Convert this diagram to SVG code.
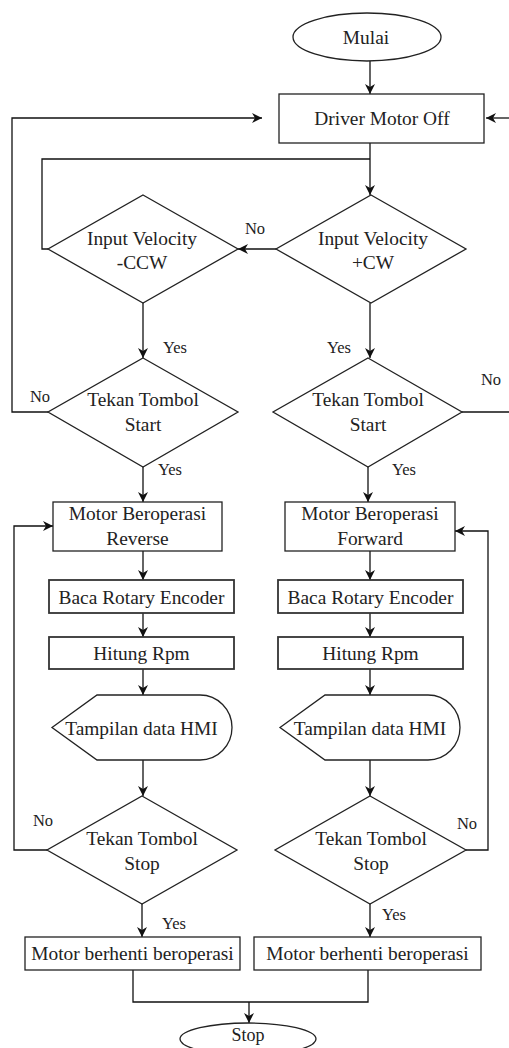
<svg xmlns="http://www.w3.org/2000/svg" width="509" height="1048" viewBox="0 0 509 1048">
<style>
.s{fill:#fff;stroke:#222;stroke-width:1.3}
.c{fill:none;stroke:#111;stroke-width:1.3}
.t{font-family:"Liberation Serif","Times New Roman",serif;font-size:19.4px;fill:#222;text-anchor:middle;dominant-baseline:central}
.l{font-family:"Liberation Serif","Times New Roman",serif;font-size:16.5px;fill:#222;text-anchor:middle;dominant-baseline:central}
</style>
<defs>
<marker id="a" viewBox="0 0 10 10" refX="10" refY="5" markerWidth="10" markerHeight="10" markerUnits="userSpaceOnUse" orient="auto">
<path d="M0,0 L10,5 L0,10 L3,5 Z" fill="#111"/>
</marker>
</defs>
<rect width="509" height="1048" fill="#fff"/>
<g id="connectors">
<path class="c" d="M370,61 V94" marker-end="url(#a)"/>
<path class="c" d="M370,143 V195" marker-end="url(#a)"/>
<path class="c" d="M48,249 H42 V159 H370"/>
<path class="c" d="M276,249 H238" marker-end="url(#a)"/>
<path class="c" d="M143,303 V358" marker-end="url(#a)"/>
<path class="c" d="M370,303 V358" marker-end="url(#a)"/>
<path class="c" d="M48,412 H12 V118 H262" marker-end="url(#a)"/>
<path class="c" d="M462,412 H509"/>
<path class="c" d="M509,118 H486" marker-end="url(#a)"/>
<path class="c" d="M143,467 V502" marker-end="url(#a)"/>
<path class="c" d="M368,467 V502" marker-end="url(#a)"/>
<path class="c" d="M143,551 V580" marker-end="url(#a)"/>
<path class="c" d="M370,551 V580" marker-end="url(#a)"/>
<path class="c" d="M143,613 V637" marker-end="url(#a)"/>
<path class="c" d="M370,613 V637" marker-end="url(#a)"/>
<path class="c" d="M143,669 V695" marker-end="url(#a)"/>
<path class="c" d="M370,669 V695" marker-end="url(#a)"/>
<path class="c" d="M143,760 V796" marker-end="url(#a)"/>
<path class="c" d="M370,760 V796" marker-end="url(#a)"/>
<path class="c" d="M47,850 H14 V526 H53" marker-end="url(#a)"/>
<path class="c" d="M466,850 H488 V531 H455" marker-end="url(#a)"/>
<path class="c" d="M142,904 V937" marker-end="url(#a)"/>
<path class="c" d="M370,904 V937" marker-end="url(#a)"/>
<path class="c" d="M133,970 V1002 H368 V970"/>
<path class="c" d="M249,1002 V1023" marker-end="url(#a)"/>
<text class="l" x="255" y="228">No</text>
<text class="l" x="175" y="347">Yes</text>
<text class="l" x="339" y="347">Yes</text>
<text class="l" x="40" y="396">No</text>
<text class="l" x="491" y="379">No</text>
<text class="l" x="170" y="469">Yes</text>
<text class="l" x="404" y="469">Yes</text>
<text class="l" x="43" y="820">No</text>
<text class="l" x="467" y="823">No</text>
<text class="l" x="174" y="923">Yes</text>
<text class="l" x="394" y="914">Yes</text>
</g>
<g id="mulai">
<ellipse class="s" cx="367" cy="37" rx="74" ry="24"/>
<text class="t" x="366" y="37">Mulai</text>
</g>
<g id="driver-off">
<rect class="s" x="279" y="94" width="205" height="49"/>
<text class="t" x="382" y="118">Driver Motor Off</text>
</g>
<g id="input-ccw">
<polygon class="s" points="143,195 238,249 143,303 48,249"/>
<text class="t" x="142" y="238">Input Velocity</text>
<text class="t" x="142" y="262">-CCW</text>
</g>
<g id="input-cw">
<polygon class="s" points="371,195 466,249 371,303 276,249"/>
<text class="t" x="373" y="238">Input Velocity</text>
<text class="t" x="373" y="262">+CW</text>
</g>
<g id="start-left">
<polygon class="s" points="143,358 238,412 143,467 48,412"/>
<text class="t" x="143" y="399">Tekan Tombol</text>
<text class="t" x="143" y="424">Start</text>
</g>
<g id="start-right">
<polygon class="s" points="368,358 462,412 368,467 273,412"/>
<text class="t" x="368" y="399">Tekan Tombol</text>
<text class="t" x="368" y="424">Start</text>
</g>
<g id="reverse">
<rect class="s" x="53" y="502" width="169" height="49"/>
<text class="t" x="137.5" y="513">Motor Beroperasi</text>
<text class="t" x="137.5" y="538">Reverse</text>
</g>
<g id="forward">
<rect class="s" x="285" y="502" width="170" height="49"/>
<text class="t" x="370" y="513">Motor Beroperasi</text>
<text class="t" x="370" y="538">Forward</text>
</g>
<g id="baca-left">
<rect class="s" x="49" y="580" width="185" height="33" style="stroke-width:1.8;stroke:#333"/>
<text class="t" x="141.5" y="597">Baca Rotary Encoder</text>
</g>
<g id="baca-right">
<rect class="s" x="278" y="580" width="185" height="33" style="stroke-width:1.8;stroke:#333"/>
<text class="t" x="370.5" y="597">Baca Rotary Encoder</text>
</g>
<g id="hitung-left">
<rect class="s" x="49" y="637" width="185" height="32" style="stroke-width:1.8;stroke:#333"/>
<text class="t" x="141.5" y="653">Hitung Rpm</text>
</g>
<g id="hitung-right">
<rect class="s" x="278" y="637" width="185" height="32" style="stroke-width:1.8;stroke:#333"/>
<text class="t" x="370.5" y="653">Hitung Rpm</text>
</g>
<g id="hmi-left">
<path class="s" d="M52,727.5 L97,695 H200 A32,32.5 0 0 1 200,760 H97 Z"/>
<text class="t" x="141.5" y="728">Tampilan data HMI</text>
</g>
<g id="hmi-right">
<path class="s" d="M280,727.5 L325,695 H428 A32,32.5 0 0 1 428,760 H325 Z"/>
<text class="t" x="370" y="728">Tampilan data HMI</text>
</g>
<g id="stop-left">
<polygon class="s" points="142,796 237,850 142,904 47,850"/>
<text class="t" x="142" y="838">Tekan Tombol</text>
<text class="t" x="142" y="863">Stop</text>
</g>
<g id="stop-right">
<polygon class="s" points="370,796 466,850 370,904 275,850"/>
<text class="t" x="371" y="838">Tekan Tombol</text>
<text class="t" x="371" y="863">Stop</text>
</g>
<g id="berhenti-left">
<rect class="s" x="25" y="937" width="215" height="33"/>
<text class="t" x="132.5" y="953">Motor berhenti beroperasi</text>
</g>
<g id="berhenti-right">
<rect class="s" x="254" y="937" width="227" height="33"/>
<text class="t" x="367.5" y="953">Motor berhenti beroperasi</text>
</g>
<g id="stop">
<ellipse class="s" cx="248" cy="1039" rx="68" ry="16"/>
<text class="t" x="248" y="1035" style="font-size:18px">Stop</text>
</g>
</svg>
